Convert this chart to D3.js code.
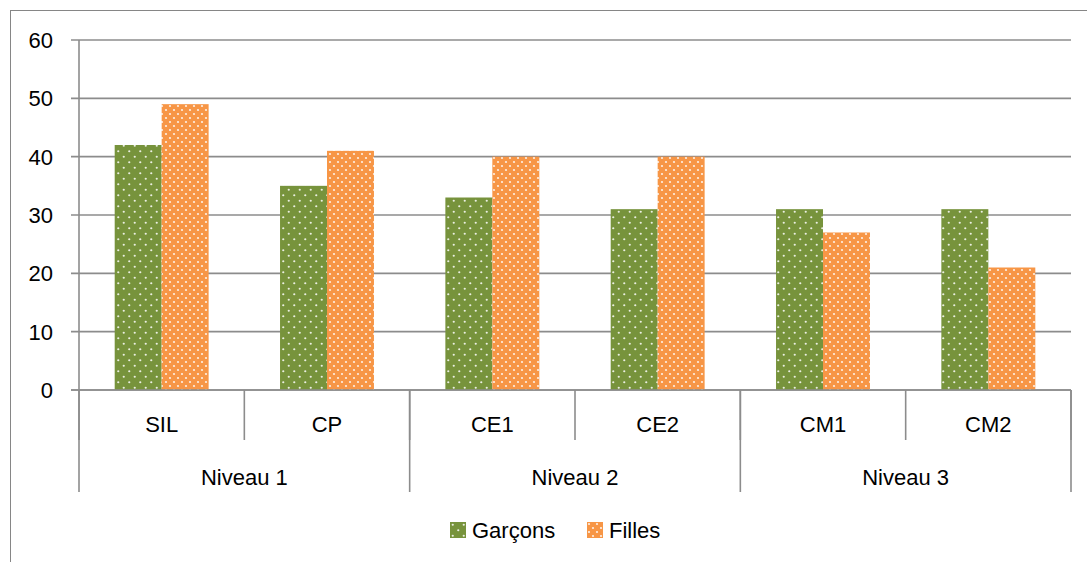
<!DOCTYPE html>
<html><head><meta charset="utf-8">
<script src="https://cdn.jsdelivr.net/npm/d3@7"></script>
<style>body{margin:0;background:#fff}svg{display:block}text{font-family:"Liberation Sans",Arial,sans-serif;fill:#000}</style>
</head><body><svg id="c" width="1087" height="562"></svg>
<script>
const categories = ["SIL","CP","CE1","CE2","CM1","CM2"];
const levels = ["Niveau 1","Niveau 2","Niveau 3"];
const seriesNames = ["Garçons","Filles"];
const garcons = [42,35,33,31,31,31];
const filles = [49,41,40,40,27,21];
const yTicks = [0,10,20,30,40,50,60];

const svg = d3.select("#c");
const defs = svg.append("defs");
const colors = {"Garçons":"#77933C","Filles":"#F79646"};
function pat(id, color, s){
  const p = defs.append("pattern").attr("id",id).attr("patternUnits","userSpaceOnUse").attr("width",s).attr("height",s);
  p.append("rect").attr("width",s).attr("height",s).attr("fill",color);
  p.append("circle").attr("cx",s*0.25).attr("cy",s*0.25).attr("r",1.1).attr("fill","#fff").attr("opacity",0.85);
  p.append("circle").attr("cx",s*0.75).attr("cy",s*0.75).attr("r",1.1).attr("fill","#fff").attr("opacity",0.85);
}
pat("pG", colors["Garçons"], 11);
pat("pF", colors["Filles"], 8);
const fills = {"Garçons":"url(#pG)","Filles":"url(#pF)"};

const L = 79, R = 1071, T = 40, B = 390;
const FS = 22;
const y = d3.scaleLinear().domain([0,60]).range([B,T]);
const x = d3.scaleBand().domain(categories).range([L,R]).paddingInner(0).paddingOuter(0);
const xs = d3.scaleBand().domain(seriesNames).range([0,x.bandwidth()]).paddingInner(0).paddingOuter(0.76);
const xl = d3.scaleBand().domain(levels).range([L,R]);

svg.append("rect").attr("x",10.5).attr("y",10.5).attr("width",1100).attr("height",600)
  .attr("fill","none").attr("stroke","#868686").attr("stroke-width",1);

const gridC = "#8c8c8c";
svg.append("g").selectAll("line").data(yTicks).join("line")
  .attr("x1",71).attr("x2",R).attr("y1",d=>y(d)).attr("y2",d=>y(d))
  .attr("stroke",gridC).attr("stroke-width",1.6);
svg.append("line").attr("x1",L).attr("x2",L).attr("y1",T).attr("y2",B).attr("stroke",gridC).attr("stroke-width",1.6);
svg.append("g").selectAll("text").data(yTicks).join("text")
  .attr("x",53).attr("y",d=>y(d)).attr("dy","0.36em").attr("text-anchor","end")
  .attr("font-size",FS).text(d=>d);

const data = categories.map((c,i)=>({c, vals:[{s:"Garçons",v:garcons[i]},{s:"Filles",v:filles[i]}]}));
const g = svg.append("g");
data.forEach(d=>{
  g.selectAll(null).data(d.vals).join("rect")
    .attr("x",e=>x(d.c)+xs(e.s)).attr("width",xs.bandwidth())
    .attr("y",e=>y(e.v)).attr("height",e=>B-y(e.v))
    .attr("fill",e=>fills[e.s]);
});

svg.append("line").attr("x1",71).attr("x2",R).attr("y1",B).attr("y2",B).attr("stroke",gridC).attr("stroke-width",1.6);

const catEdges = categories.map(c=>x(c)).concat([R]);
svg.append("g").selectAll("line").data(catEdges).join("line")
  .attr("x1",d=>d).attr("x2",d=>d).attr("y1",B).attr("y2",440)
  .attr("stroke",gridC).attr("stroke-width",1.6);
const lvlEdges = levels.map(l=>xl(l)).concat([R]);
svg.append("g").selectAll("line").data(lvlEdges).join("line")
  .attr("x1",d=>d).attr("x2",d=>d).attr("y1",B).attr("y2",492)
  .attr("stroke",gridC).attr("stroke-width",1.6);
svg.append("g").selectAll("text").data(categories).join("text")
  .attr("x",c=>x(c)+x.bandwidth()/2).attr("y",424).attr("dy","0.36em").attr("text-anchor","middle")
  .attr("font-size",FS).text(c=>c);
svg.append("g").selectAll("text").data(levels).join("text")
  .attr("x",l=>xl(l)+xl.bandwidth()/2).attr("y",477).attr("dy","0.36em").attr("text-anchor","middle")
  .attr("font-size",FS).text(l=>l);

const legX = [450, 587];
const lg = svg.append("g").selectAll("g").data(seriesNames).join("g")
  .attr("transform",(s,i)=>`translate(${legX[i]},522)`);
lg.append("rect").attr("width",16).attr("height",16).attr("fill",s=>fills[s]);
lg.append("text").attr("x",22).attr("y",8).attr("dy","0.36em").attr("font-size",FS).text(s=>s);
</script></body></html>
